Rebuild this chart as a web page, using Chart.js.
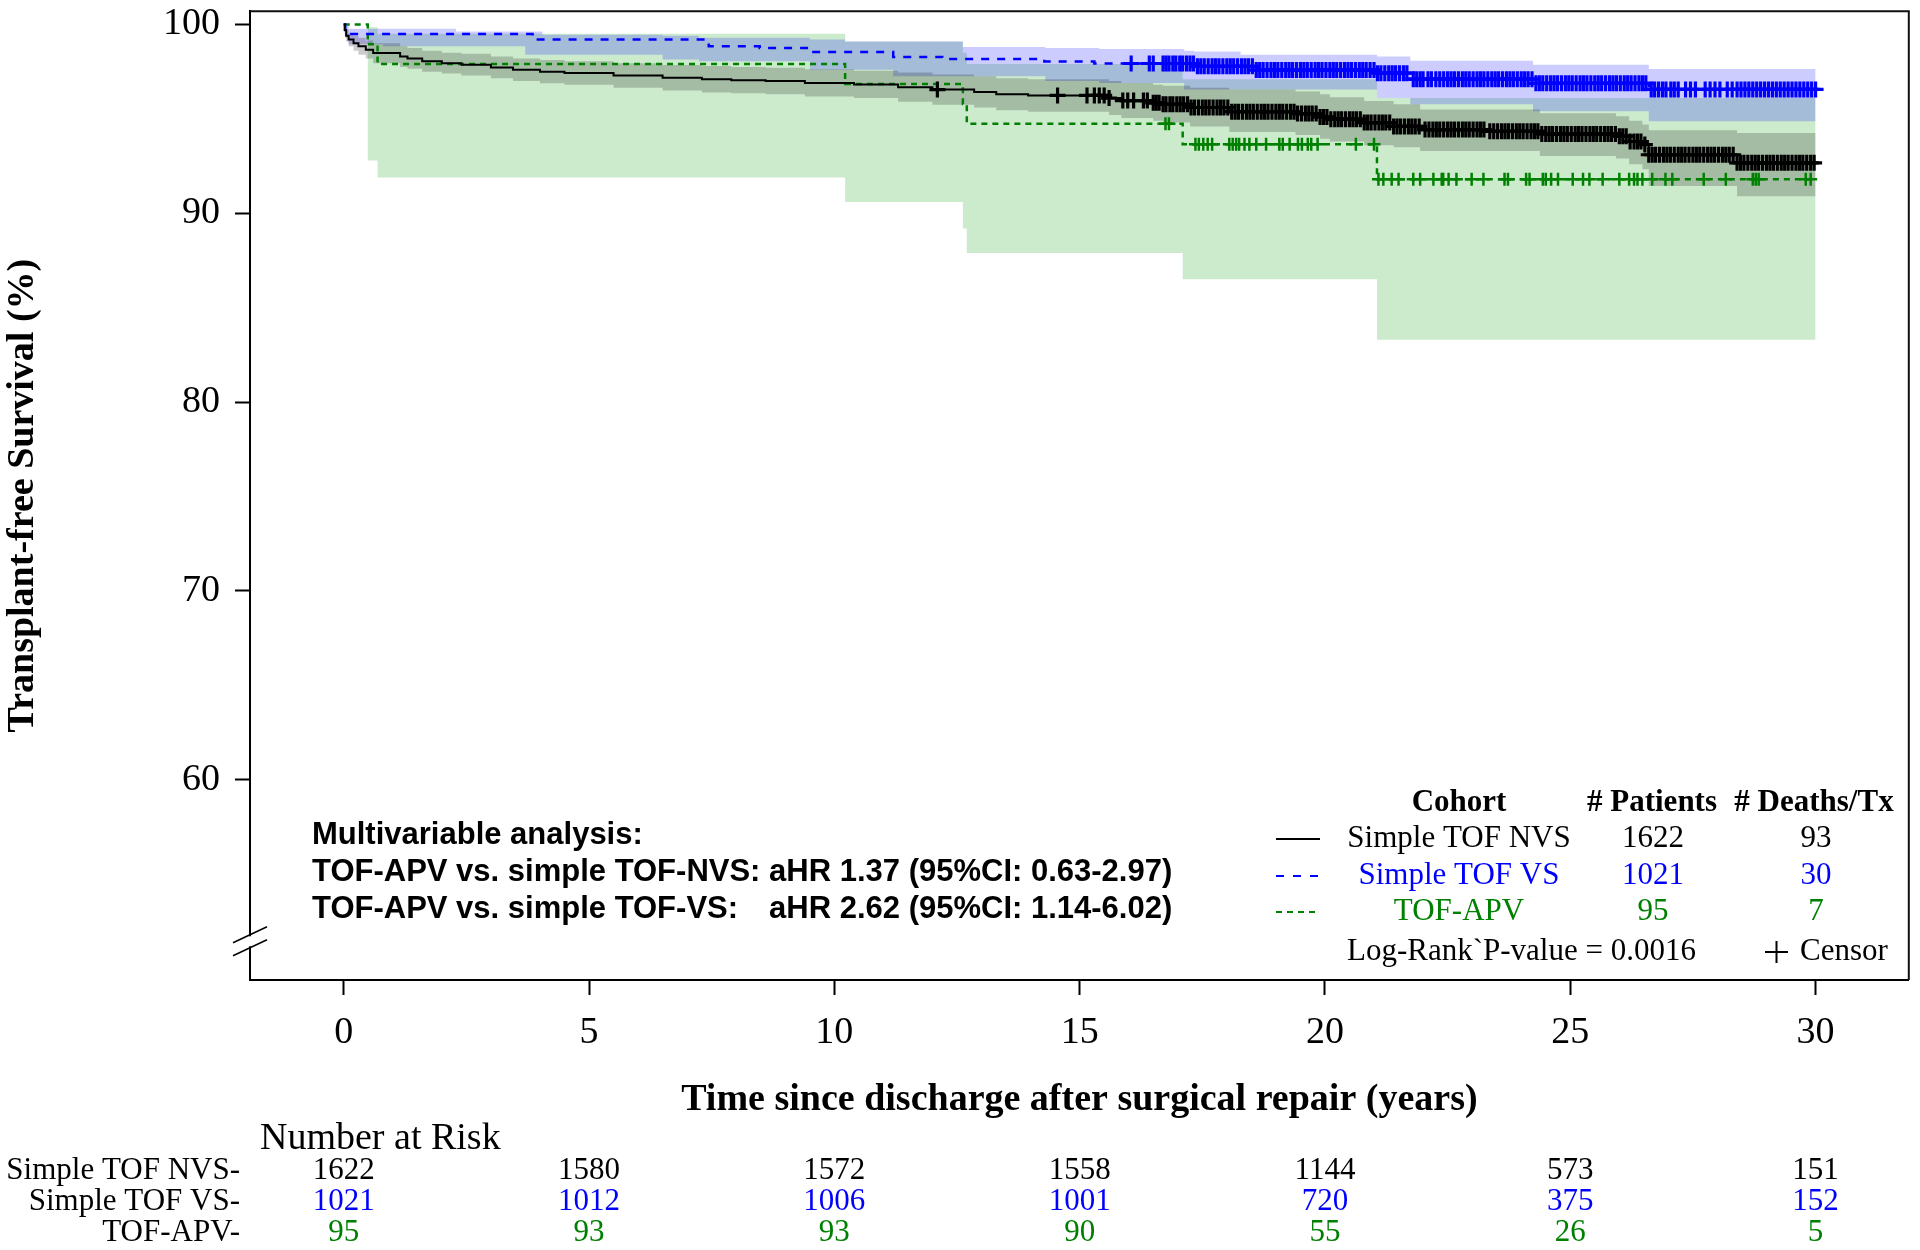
<!DOCTYPE html>
<html>
<head>
<meta charset="utf-8">
<script src="https://cdn.jsdelivr.net/npm/chart.js@4.4.1/dist/chart.umd.min.js"></script>
<style>
  html, body { margin: 0; padding: 0; background: #fff; }
  #wrap { width: 1920px; height: 1250px; }
</style>
</head>
<body>
<div id="wrap"><canvas id="km" width="1920" height="1250"></canvas></div>
<script>
// Kaplan-Meier: time in years, survival in %
const nvsTimes = [0, 0.02, 0.05, 0.1, 0.2, 0.3, 0.45, 0.6, 1.15, 1.3, 1.6, 2.0, 2.4, 3.0, 3.45, 4.0, 4.5, 5.5, 6.5, 7.3, 7.9, 8.6, 9.4, 10.4, 11.3, 12.0, 12.85, 13.3, 13.95, 15.6, 15.85, 16.5, 16.7, 17.25, 18.05, 19.4, 19.9, 20.1, 20.8, 21.4, 21.94, 23.3, 24.38, 25.93, 26.2, 26.47, 26.6, 28.4, 30];
const nvsSurv  = [100, 99.7, 99.4, 99.2, 99.0, 98.85, 98.66, 98.48, 98.3, 98.2, 98.05, 97.95, 97.87, 97.72, 97.6, 97.5, 97.43, 97.3, 97.18, 97.1, 97.05, 97.0, 96.9, 96.82, 96.67, 96.55, 96.42, 96.3, 96.24, 96.1, 95.97, 95.85, 95.77, 95.6, 95.38, 95.28, 95.1, 94.98, 94.8, 94.6, 94.43, 94.34, 94.2, 94.08, 93.8, 93.64, 93.1, 92.67, 92.67];
const nvsUpper = [100, 99.9, 99.7, 99.55, 99.4, 99.3, 99.15, 99.0, 98.85, 98.75, 98.6, 98.5, 98.45, 98.3, 98.2, 98.12, 98.05, 97.95, 97.85, 97.8, 97.75, 97.7, 97.62, 97.55, 97.45, 97.35, 97.25, 97.15, 97.1, 97.0, 96.9, 96.8, 96.75, 96.65, 96.55, 96.45, 96.3, 96.15, 95.95, 95.77, 95.5, 95.5, 95.3, 95.14, 94.9, 94.7, 94.4, 94.25, 94.25];
const nvsLower = [100, 99.5, 99.1, 98.85, 98.6, 98.4, 98.2, 97.95, 97.75, 97.65, 97.5, 97.4, 97.3, 97.15, 97.0, 96.88, 96.8, 96.65, 96.5, 96.4, 96.35, 96.3, 96.18, 96.1, 95.9, 95.75, 95.6, 95.45, 95.38, 95.2, 95.05, 94.9, 94.8, 94.6, 94.3, 94.15, 93.95, 93.8, 93.6, 93.49, 93.3, 93.3, 93.03, 92.9, 92.6, 92.33, 91.44, 90.9, 90.9];

const vsTimes = [0, 0.03, 0.1, 3.85, 7.44, 8.48, 9.47, 11.2, 12.2, 14.28, 15.3, 17.33, 18.6, 21.06, 21.74, 24.24, 26.6, 30];
const vsSurv  = [100, 99.7, 99.49, 99.2, 98.84, 98.75, 98.54, 98.28, 98.17, 98.04, 97.93, 97.78, 97.58, 97.42, 97.1, 96.88, 96.56, 96.56];
const vsBandTimes = [0, 0.03, 0.1, 0.8, 2.29, 3.7, 4.05, 6.5, 7.24, 9.5, 10.22, 11.2, 12.62, 14.3, 15.4, 17.13, 17.33, 18.28, 21.06, 21.74, 24.24, 26.6, 30];
const vsUpper = [100, 99.95, 99.77, 99.77, 99.63, 99.63, 99.45, 99.4, 99.3, 99.2, 99.1, 99.1, 98.8, 98.75, 98.7, 98.6, 98.57, 98.4, 98.3, 98.07, 97.87, 97.64, 97.64];
const vsLower = [100, 99.3, 98.95, 98.84, 98.84, 98.4, 98.4, 98.14, 98.05, 97.6, 97.6, 97.26, 97.26, 97.0, 96.9, 96.56, 96.56, 96.56, 96.1, 95.77, 95.4, 94.87, 94.87];

const apvTimes = [0, 0.49, 0.69, 10.22, 12.62, 12.7, 17.1, 21.06, 30];
const apvSurv  = [100, 98.95, 97.9, 96.84, 95.79, 94.74, 93.66, 91.8, 91.8];
const apvUpper = [100, 99.85, 99.5, 99.1, 98.5, 97.9, 97.1, 96.1, 96.1];
const apvLower = [100, 92.8, 91.9, 90.6, 89.2, 87.9, 86.5, 83.3, 83.3];

// censoring times (years)
const nvsCensor = [12.1, 14.55, 15.15, 15.3, 15.4, 15.5, 15.6, 15.88, 15.98, 16.1, 16.3, 16.38,
  16.5, 16.56, 16.62, 16.7, 16.76, 16.84, 16.9, 16.98, 17.05, 17.12, 17.2, 17.27, 17.34, 17.42, 17.5, 17.57, 17.64, 17.72, 17.8, 17.87, 17.94,
  18.02, 18.1, 18.17, 18.24, 18.32, 18.4, 18.47, 18.54, 18.62, 18.7, 18.77, 18.84, 18.92, 19.0, 19.07, 19.14, 19.22, 19.3, 19.37, 19.44,
  19.52, 19.6, 19.67, 19.74, 19.82, 19.9, 19.97, 20.04, 20.12, 20.2, 20.27, 20.34, 20.42, 20.5, 20.57, 20.64, 20.72, 20.8, 20.87, 20.94,
  21.02, 21.1, 21.17, 21.24, 21.32, 21.4, 21.47, 21.54, 21.62, 21.7, 21.77, 21.84, 21.92, 22.04, 22.12, 22.2, 22.27, 22.34, 22.42, 22.5,
  22.57, 22.64, 22.72, 22.8, 22.87, 22.94, 23.02, 23.1, 23.17, 23.24, 23.36, 23.44, 23.52, 23.6, 23.67, 23.74, 23.82, 23.9, 23.97, 24.04,
  24.12, 24.2, 24.27, 24.34, 24.42, 24.5, 24.57, 24.64, 24.72, 24.8, 24.87, 24.94, 25.02, 25.1, 25.17, 25.24, 25.32, 25.4, 25.47, 25.54,
  25.62, 25.7, 25.77, 25.84, 25.92, 26.0, 26.07, 26.14, 26.22, 26.3, 26.37, 26.44, 26.52, 26.6, 26.67, 26.74, 26.82, 26.9, 26.97, 27.04,
  27.12, 27.2, 27.27, 27.34, 27.42, 27.5, 27.57, 27.64, 27.72, 27.8, 27.87, 27.94, 28.02, 28.1, 28.17, 28.24, 28.32, 28.4, 28.47, 28.54,
  28.62, 28.7, 28.77, 28.84, 28.92, 29.0, 29.07, 29.14, 29.22, 29.3, 29.37, 29.44, 29.52, 29.6, 29.67, 29.74, 29.82, 29.9, 29.97];
const vsCensor = [16.05, 16.42, 16.5, 16.7, 16.76, 16.82, 16.9, 16.96, 17.04, 17.1, 17.18, 17.25, 17.32, 17.4, 17.47, 17.54, 17.62, 17.7,
  17.77, 17.84, 17.92, 18.0, 18.07, 18.14, 18.22, 18.3, 18.37, 18.44, 18.52, 18.6, 18.67, 18.74, 18.82, 18.9, 18.97, 19.04, 19.12, 19.2,
  19.27, 19.34, 19.42, 19.5, 19.57, 19.64, 19.72, 19.8, 19.87, 19.94, 20.02, 20.1, 20.17, 20.24, 20.32, 20.4, 20.47, 20.54, 20.62, 20.7,
  20.77, 20.84, 20.92, 21.0, 21.07, 21.14, 21.22, 21.3, 21.37, 21.44, 21.52, 21.6, 21.67, 21.8, 21.87, 21.94, 22.0, 22.1, 22.17, 22.26,
  22.34, 22.42, 22.5, 22.57, 22.64, 22.72, 22.8, 22.87, 22.94, 23.02, 23.1, 23.17, 23.24, 23.32, 23.4, 23.47, 23.54, 23.62, 23.7, 23.77,
  23.84, 23.92, 24.0, 24.07, 24.14, 24.22, 24.3, 24.37, 24.44, 24.52, 24.6, 24.67, 24.74, 24.82, 24.9, 24.97, 25.04, 25.12, 25.2, 25.27,
  25.34, 25.42, 25.5, 25.57, 25.64, 25.72, 25.8, 25.87, 25.94, 26.02, 26.1, 26.17, 26.24, 26.32, 26.4, 26.47, 26.54, 26.65, 26.72, 26.8,
  26.88, 26.95, 27.05, 27.12, 27.2, 27.35, 27.45, 27.55, 27.75, 27.85, 27.95, 28.05, 28.2, 28.3, 28.4, 28.48, 28.56, 28.64, 28.72, 28.8,
  28.88, 28.96, 29.04, 29.12, 29.2, 29.28, 29.36, 29.44, 29.52, 29.6, 29.68, 29.76, 29.84, 29.92, 30.0];
const apvCensor = [16.75, 16.82, 17.36, 17.43, 17.52, 17.61, 17.7, 18.05, 18.12, 18.19, 18.25, 18.36, 18.46, 18.6, 18.8, 19.07, 19.14,
  19.28, 19.45, 19.53, 19.65, 19.72, 19.85, 20.63, 21.0, 21.09, 21.19, 21.36, 21.5, 21.8, 21.94, 22.21, 22.38, 22.41, 22.52, 22.68, 22.99,
  23.23, 23.66, 23.73, 24.1, 24.17, 24.44, 24.5, 24.61, 24.75, 25.05, 25.26, 25.39, 25.66, 26.0, 26.2, 26.3, 26.37, 26.47, 26.67, 26.94,
  27.08, 27.72, 28.17, 28.72, 28.78, 28.84, 29.8, 29.9];

const xTicks = [0, 5, 10, 15, 20, 25, 30];
const xTickLabels = ['0', '5', '10', '15', '20', '25', '30'];
const yTicks = [60, 70, 80, 90, 100];
const yTickLabels = ['60', '70', '80', '90', '100'];

// number at risk
const riskTimes = [0, 5, 10, 15, 20, 25, 30];
const riskNVS = [1622, 1580, 1572, 1558, 1144, 573, 151];
const riskVS  = [1021, 1012, 1006, 1001, 720, 375, 152];
const riskAPV = [95, 93, 93, 90, 55, 26, 5];

// legend table
const cohorts  = ['Simple TOF NVS', 'Simple TOF VS', 'TOF-APV'];
const riskRowLabels = ['Simple TOF NVS-', 'Simple TOF VS-', 'TOF-APV-'];
const patients = [1622, 1021, 95];
const deaths   = [93, 30, 7];

const SERIF = "'Liberation Serif', 'Times New Roman', serif";
const SANS = "'Liberation Sans', Arial, sans-serif";
const BLACK = '#000000', BLUE = '#0000ff', GREEN = '#008000';
const colors = [BLACK, BLUE, GREEN];

function pts(ts, vs) { return ts.map((t, i) => ({x: t, y: vs[i]})); }
function survAt(ts, vs, t) {
  let v = vs[0];
  for (let i = 0; i < ts.length; i++) { if (ts[i] <= t) v = vs[i]; }
  return v;
}
function censorPts(cs, ts, vs) { return cs.map(t => ({x: t, y: survAt(ts, vs, t)})); }

function band(label, ts, up, lo, fillColor, order) {
  return [
    {label: label + ' upper', data: pts(ts, up), stepped: true, borderWidth: 0, pointRadius: 0,
     fill: '+1', backgroundColor: fillColor, order: order},
    {label: label + ' lower', data: pts(ts, lo), stepped: true, borderWidth: 0, pointRadius: 0,
     fill: false, order: order + 1}
  ];
}

function curve(label, ts, vs, color, dash, width, order) {
  return {label: label, data: pts(ts, vs), stepped: true, borderColor: color, borderWidth: width,
    borderDash: dash, pointRadius: 0, fill: false, order: order};
}

function censor(label, cs, ts, vs, color, r, w, order) {
  return {label: label, data: censorPts(cs, ts, vs), showLine: false, pointStyle: 'cross',
    pointRadius: r, pointBorderWidth: w, pointBorderColor: color, borderColor: color, order: order};
}

const datasets = [].concat(
  band('TOF-APV', apvTimes, apvUpper, apvLower, 'rgba(0,150,0,0.2)', 20),
  band('Simple TOF VS', vsBandTimes, vsUpper, vsLower, 'rgba(0,0,255,0.2)', 17),
  band('Simple TOF NVS', nvsTimes, nvsUpper, nvsLower, 'rgba(0,0,0,0.2)', 14),
  [
    curve('TOF-APV', apvTimes, apvSurv, GREEN, [6, 5], 2.5, 10),
    curve('Simple TOF VS', vsTimes, vsSurv, BLUE, [8, 8], 2.5, 9),
    curve('Simple TOF NVS', nvsTimes, nvsSurv, BLACK, [], 2, 8),
    censor('TOF-APV censor', apvCensor, apvTimes, apvSurv, GREEN, 6.5, 2.5, 3),
    censor('Simple TOF VS censor', vsCensor, vsTimes, vsSurv, BLUE, 8, 3.2, 2),
    censor('Simple TOF NVS censor', nvsCensor, nvsTimes, nvsSurv, BLACK, 8, 3.2, 1)
  ]
);

function txt(ctx, s, x, y, font, color, align) {
  ctx.font = font;
  ctx.fillStyle = color;
  ctx.textAlign = align || 'left';
  ctx.textBaseline = 'middle';
  ctx.fillText(s, x, y);
}

const decor = {
  id: 'decor',
  afterDraw(chart) {
    const {ctx, chartArea: a, scales: {x, y}} = chart;
    ctx.save();
    // rest of the frame
    ctx.strokeStyle = '#111';
    ctx.lineWidth = 2;
    ctx.beginPath();
    ctx.moveTo(a.left, a.top);
    ctx.lineTo(a.right, a.top);
    ctx.lineTo(a.right, a.bottom);
    ctx.stroke();

    // axis break
    const yb = y.getPixelForValue(51.45);
    ctx.fillStyle = '#fff';
    ctx.fillRect(a.left - 2, yb - 5, 4, 10);
    ctx.strokeStyle = '#000';
    ctx.lineWidth = 1.5;
    [-6.5, 6.5].forEach(d => {
      ctx.beginPath();
      ctx.moveTo(a.left - 17, yb + d + 8);
      ctx.lineTo(a.left + 17, yb + d - 8);
      ctx.stroke();
    });

    // multivariable analysis text
    const mf = 'bold 31px ' + SANS;
    txt(ctx, 'Multivariable analysis:', 312, 835, mf, BLACK);
    txt(ctx, 'TOF-APV vs. simple TOF-NVS: aHR 1.37 (95%CI: 0.63-2.97)', 312, 872, mf, BLACK);
    ctx.font = mf;
    const hrX = 312 + ctx.measureText('TOF-APV vs. simple TOF-NVS: ').width;
    txt(ctx, 'TOF-APV vs. simple TOF-VS:', 312, 909, mf, BLACK);
    txt(ctx, 'aHR 2.62 (95%CI: 1.14-6.02)', hrX, 909, mf, BLACK);

    // legend table
    const hf = 'bold 31px ' + SERIF, rf = '31px ' + SERIF;
    txt(ctx, 'Cohort', 1459, 803, hf, BLACK, 'center');
    txt(ctx, '# Patients', 1652, 803, hf, BLACK, 'center');
    txt(ctx, '# Deaths/Tx', 1814, 803, hf, BLACK, 'center');
    const rowY = [839, 876, 912];
    const dashes = [[], [8, 9], [6, 5]];
    cohorts.forEach((c, i) => {
      ctx.strokeStyle = colors[i];
      ctx.lineWidth = 2;
      ctx.setLineDash(dashes[i]);
      ctx.beginPath();
      ctx.moveTo(1276, rowY[i]);
      ctx.lineTo(1320, rowY[i]);
      ctx.stroke();
      ctx.setLineDash([]);
      txt(ctx, c, 1459, rowY[i], rf, colors[i], 'center');
      txt(ctx, String(patients[i]), 1653, rowY[i], rf, colors[i], 'center');
      txt(ctx, String(deaths[i]), 1816, rowY[i], rf, colors[i], 'center');
    });
    txt(ctx, 'Log-Rank`P-value = 0.0016', 1347, 952, rf, BLACK);
    ctx.strokeStyle = BLACK;
    ctx.lineWidth = 2;
    ctx.beginPath();
    ctx.moveTo(1765, 952); ctx.lineTo(1788, 952);
    ctx.moveTo(1776.5, 941); ctx.lineTo(1776.5, 963);
    ctx.stroke();
    txt(ctx, 'Censor', 1800, 952, rf, BLACK);

    // number at risk
    txt(ctx, 'Number at Risk', 260, 1139, '38px ' + SERIF, BLACK);
    const riskRows = [riskNVS, riskVS, riskAPV];
    const riskY = [1171, 1202, 1233];
    riskRows.forEach((row, i) => {
      txt(ctx, riskRowLabels[i], 240, riskY[i], rf, BLACK, 'right');
      row.forEach((n, j) => {
        txt(ctx, String(n), x.getPixelForValue(riskTimes[j]), riskY[i], rf, colors[i], 'center');
      });
    });
    ctx.restore();
  }
};

new Chart(document.getElementById('km'), {
  type: 'line',
  data: {datasets: datasets},
  options: {
    responsive: false,
    animation: false,
    layout: {padding: {top: 6, right: 6, left: 0, bottom: 0}},
    plugins: {legend: {display: false}, tooltip: {enabled: false}},
    elements: {line: {tension: 0}},
    scales: {
      x: {
        type: 'linear',
        min: -1.91,
        max: 31.9,
        afterFit: s => { s.height = 270; s.paddingLeft = 0; s.paddingRight = 0; },
        afterBuildTicks: s => { s.ticks = xTicks.map(v => ({value: v})); },
        ticks: {
          autoSkip: false, maxRotation: 0, padding: 15, color: BLACK,
          font: {family: SERIF, size: 38},
          callback: v => xTickLabels[xTicks.indexOf(v)]
        },
        grid: {drawOnChartArea: false, drawTicks: true, tickLength: 15, tickWidth: 2, tickColor: BLACK},
        border: {display: true, color: BLACK, width: 2},
        title: {
          display: true, text: 'Time since discharge after surgical repair (years)', color: BLACK,
          font: {family: SERIF, size: 38, weight: 'bold'}, padding: {top: 0, bottom: 127}
        }
      },
      y: {
        type: 'linear',
        min: 49.4,
        max: 100.7,
        afterFit: s => { s.width = 250; s.paddingTop = 0; s.paddingBottom = 0; },
        afterBuildTicks: s => { s.ticks = yTicks.map(v => ({value: v})); },
        ticks: {
          padding: 15, color: BLACK,
          font: {family: SERIF, size: 38},
          callback: v => yTickLabels[yTicks.indexOf(v)]
        },
        grid: {drawOnChartArea: false, drawTicks: true, tickLength: 15, tickWidth: 2, tickColor: BLACK},
        border: {display: true, color: BLACK, width: 2},
        title: {
          display: true, text: 'Transplant-free Survival (%)', color: BLACK,
          font: {family: SERIF, size: 38, weight: 'bold'}, padding: {top: 0, bottom: 0}
        }
      }
    }
  },
  plugins: [decor]
});
</script>
</body>
</html>
